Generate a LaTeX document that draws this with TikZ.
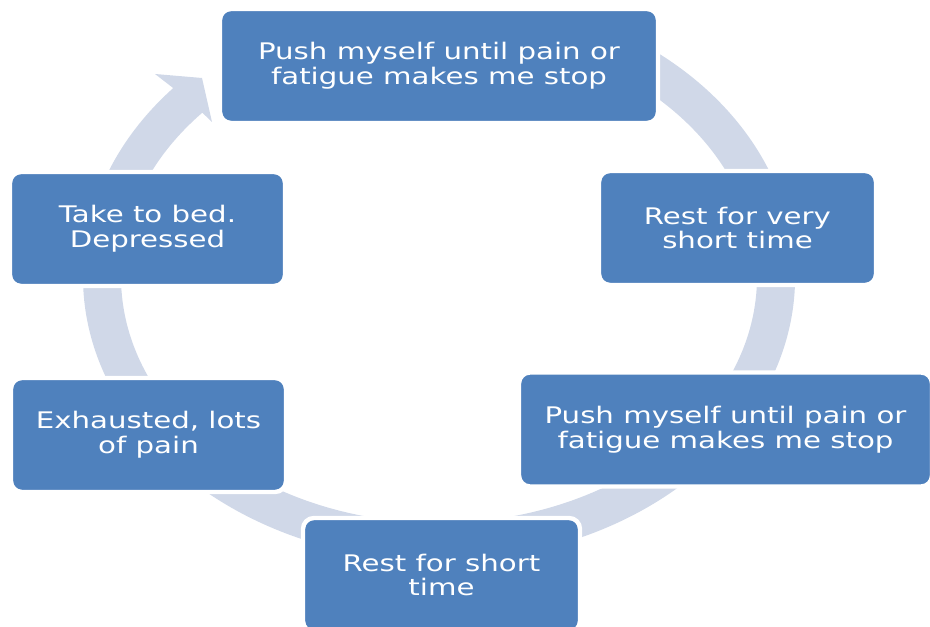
\documentclass[tikz,border=0pt]{standalone}
\usepackage{fontspec}
\setmainfont{DejaVu Sans}[FakeStretch=1.28]
\definecolor{stageblue}{RGB}{79,129,189}
\definecolor{ringgray}{RGB}{208,216,232}
\tikzset{
  stage/.style={rectangle,rounded corners=0.22cm,fill=stageblue,draw=white,line width=2.5pt,text=white,align=center,font=\fontsize{13}{14}\selectfont,minimum height=2.28cm}
}

\begin{document}
\begin{tikzpicture}
\useasboundingbox (0,0) rectangle (18.6,12.54);
\coordinate (c) at (8.78,7.0);
\fill[ringgray] ([shift={(60:7.12 and 5.68)}]c) arc[start angle=60,end angle=-221.7,x radius=7.12,y radius=5.68]
  -- (3.10,11.06) -- (4.04,10.98) -- (4.24,10.10)
  -- ([shift={(138.1:6.36 and 4.92)}]c) arc[start angle=-221.9,end angle=60,x radius=6.36,y radius=4.92] -- cycle;

\node[stage,minimum width=8.76cm] (push1) at (8.78,11.22) {Push myself until pain or\\fatigue makes me stop};
\node[stage,minimum width=5.54cm] (restvs) at (14.75,7.98) {Rest for very\\short time};
\node[stage,minimum width=8.26cm] (push2) at (14.51,3.95) {Push myself until pain or\\fatigue makes me stop};
\node[stage,minimum width=5.54cm] (restst) at (8.83,1.04) {Rest for short\\time};
\node[stage,minimum width=5.50cm] (exh) at (2.97,3.84) {Exhausted, lots\\of pain};
\node[stage,minimum width=5.50cm] (bed) at (2.95,7.96) {Take to bed.\\Depressed};

\end{tikzpicture}
\end{document}
